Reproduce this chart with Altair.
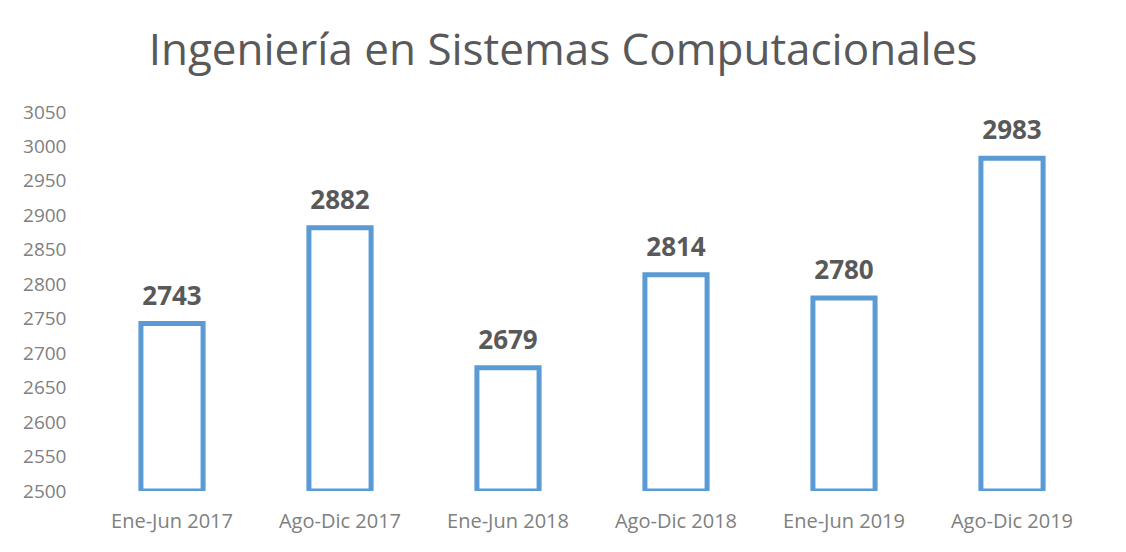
import altair as alt
import pandas as pd

categories = ["Ene-Jun 2017", "Ago-Dic 2017", "Ene-Jun 2018", "Ago-Dic 2018", "Ene-Jun 2019", "Ago-Dic 2019"]
values = [2743, 2882, 2679, 2814, 2780, 2983]
y_ticks = [2500, 2550, 2600, 2650, 2700, 2750, 2800, 2850, 2900, 2950, 3000, 3050]

df = pd.DataFrame({"periodo": categories, "valor": values})

FONT = "Open Sans"

x = alt.X("periodo:N", sort=categories, title=None,
          scale=alt.Scale(paddingInner=0.63, paddingOuter=0.315),
          axis=alt.Axis(labelAngle=0, domain=False, ticks=False, labelFont=FONT,
                        labelFontSize=20, labelColor="#808080", labelPadding=20))
y = alt.Y("valor:Q", title=None,
          scale=alt.Scale(domain=[2500, 3050], nice=False, zero=False),
          axis=alt.Axis(values=y_ticks, format="d", domain=False, ticks=False, grid=False,
                        labelFont=FONT, labelFontSize=19, labelColor="#808080", labelPadding=22))

base = alt.Chart(df)
bars = base.mark_bar(fill="white", stroke="#5B9BD5", strokeWidth=5, clip=True).encode(
    x=x, y=y, y2=alt.datum(2500))
labels = base.mark_text(font=FONT, fontSize=26, fontWeight="bold", color="#595959",
                        baseline="alphabetic", dy=-19).encode(x=x, y=y, text="valor:Q")

chart = (bars + labels).properties(
    width=1008, height=379,
    title=alt.TitleParams("Ingeniería en Sistemas Computacionales", font=FONT, fontSize=44,
                          fontWeight="normal", color="#595959", anchor="middle", dx=-29, offset=29),
    autosize=alt.AutoSizeParams(type="none"),
    padding={"left": 80, "top": 104, "right": 22, "bottom": 45},
).configure_view(stroke=None)

chart.save("out.html", embed_options={"renderer": "svg", "actions": False})
